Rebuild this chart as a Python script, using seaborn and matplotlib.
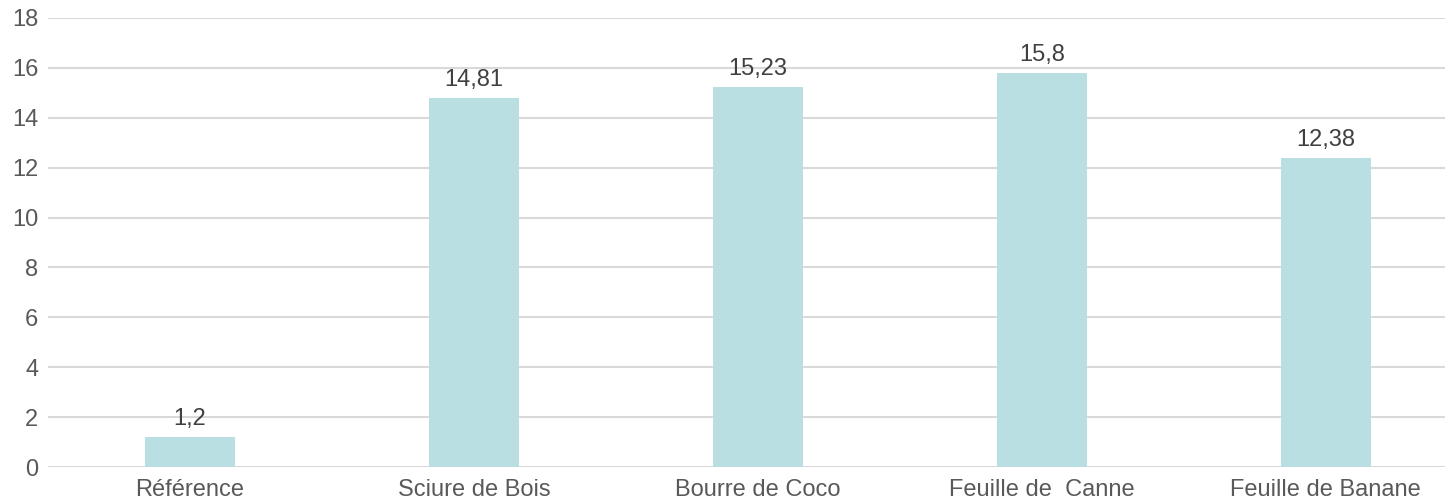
import matplotlib
matplotlib.use("Agg")
import matplotlib.pyplot as plt
import seaborn as sns
import pandas as pd

categories = ["Référence", "Sciure de Bois", "Bourre de Coco", "Feuille de  Canne", "Feuille de Banane"]
values = [1.2, 14.81, 15.23, 15.8, 12.38]
value_labels = ["1,2", "14,81", "15,23", "15,8", "12,38"]
y_ticks = [0, 2, 4, 6, 8, 10, 12, 14, 16, 18]

sns.set_theme(style="white")
plt.rcParams["font.family"] = ["Liberation Sans", "DejaVu Sans"]

df = pd.DataFrame({"cat": categories, "val": values})

fig = plt.figure(figsize=(14.45, 5.04), dpi=100)
ax = fig.add_axes([48 / 1445, 37 / 504, 1 - 48 / 1445, (467 - 18) / 504])

sns.barplot(data=df, x="cat", y="val", color="#b9dfe2", saturation=1,
            width=0.317, linewidth=0, edgecolor="none", ax=ax, zorder=3)

ax.set_ylim(0, 18)
ax.set_xlim(-0.5, 4.42)
ax.set_yticks(y_ticks)
ax.yaxis.grid(True, color="#d9d9d9", linewidth=1.5, zorder=0)
ax.set_axisbelow(True)
for s in ax.spines.values():
    s.set_visible(False)
ax.set_xlabel("")
ax.set_ylabel("")
ax.tick_params(axis="both", length=0, labelsize=17, labelcolor="#595959")
ax.tick_params(axis="x", pad=9)
ax.tick_params(axis="y", pad=7)

for i, (v, lab) in enumerate(zip(values, value_labels)):
    ax.annotate(lab, (i, v), xytext=(0, 5), textcoords="offset points",
                ha="center", va="bottom", fontsize=17, color="#404040")

fig.savefig("out.png", dpi=100)
